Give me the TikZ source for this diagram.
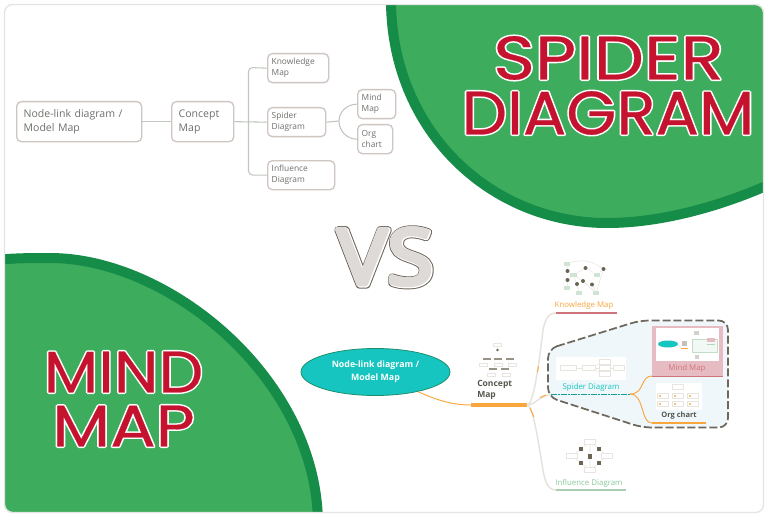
\documentclass[tikz,border=0pt]{standalone}
\usepackage{fontspec}
\setmainfont{Open Sans}
\newfontfamily\handcore[FakeBold=0.4]{Poppins}
\newfontfamily\handhalo[FakeBold=5.5]{Poppins}
\newfontfamily\vscore[FakeBold=5.5]{Open Sans}
\newfontfamily\vshalo[FakeBold=7]{Open Sans}
\newfontfamily\vsedge[FakeBold=9.5]{Open Sans}
\usetikzlibrary{shapes.geometric,calc}
\definecolor{cardedge}{HTML}{E4E4E4}
\definecolor{greenfill}{HTML}{3EAC5D}
\definecolor{greendark}{HTML}{168C49}
\definecolor{crimson}{HTML}{C4122F}
\definecolor{boxline}{HTML}{CFC6C2}
\definecolor{linkgray}{HTML}{BFC7C0}
\definecolor{txtgray}{HTML}{6F6F6C}
\definecolor{labeldark}{HTML}{57564E}
\definecolor{orange1}{HTML}{F9A63C}
\definecolor{teal1}{HTML}{16C5BF}
\definecolor{tealdark}{HTML}{1D8F6D}
\definecolor{roseline}{HTML}{CE747A}
\definecolor{rosefill}{HTML}{E6BCC2}
\definecolor{sagegreen}{HTML}{A9CDB0}
\definecolor{sage}{HTML}{8AC99A}
\definecolor{pale}{HTML}{EFF7FB}
\definecolor{curve}{HTML}{E6E3DC}
\definecolor{dotdark}{HTML}{6B6452}
\definecolor{vsgray}{HTML}{DDDAD8}
\definecolor{vsline}{HTML}{6D675C}
\definecolor{faint}{HTML}{E8E5DF}
\newcommand{\roundjoin}{\special{pdf:code 1 j 1 J}}
\newcommand{\halotext}[1]{\roundjoin\rlap{\color{white}\handhalo #1}{\color{crimson}\handcore #1}}
\tikzset{
  mapbox/.style={draw=boxline,line width=1pt,rounded corners=3.5pt,fill=white,align=left,anchor=north west,inner ysep=0pt,text=txtgray},
  tiny/.style={font=\fontsize{6.3pt}{8.4pt}\selectfont,inner xsep=3pt},
  mid/.style={font=\fontsize{7.9pt}{10.6pt}\selectfont,inner xsep=5pt},
  link/.style={draw=linkgray,line width=.8pt},
  branch/.style={draw=curve,line width=1.1pt},
  acc/.style={draw=orange1,line width=.7pt},
  lbl/.style={font=\fontsize{5.9pt}{7pt}\selectfont,anchor=center},
  dotn/.style={circle,fill=dotdark,inner sep=0pt,minimum size=3pt},
  pad/.style={fill=sagegreen!55,inner sep=0pt,minimum width=5pt,minimum height=3pt},
  sq/.style={fill=dotdark,inner sep=0pt,minimum size=3.2pt},
  mini/.style={draw=faint,line width=.4pt,fill=white,inner sep=0pt,minimum width=8pt,minimum height=3.5pt},
  thin/.style={draw=faint,line width=.4pt},
  hand/.style={inner sep=0pt},
}
\begin{document}
\begin{tikzpicture}[x=0.75pt,y=-0.75pt]
\useasboundingbox (0,0) rectangle (768,517);
\fill[white] (0,0) rectangle (768,517);
\begin{scope}
\path[clip,rounded corners=6pt] (5,5) rectangle (763,512);
\draw[fill=greenfill,draw=greendark,line width=7.5pt] (391,-5) -- (391,0) .. controls (391,130) and (490,223) .. (607,223) .. controls (660,223) and (720,207) .. (775,182) -- (790,-20) -- cycle;
\draw[fill=greenfill,draw=greendark,line width=7.5pt] (-15,261) .. controls (10,258) and (30,258) .. (50,258) .. controls (170,258) and (318,380) .. (318,525) -- (-20,530) -- cycle;
\end{scope}
\draw[cardedge,line width=1pt,rounded corners=6pt] (4.5,4.5) rectangle (763.5,512.5);
% titles
\node[hand,font=\fontsize{46pt}{46pt}\selectfont] (sb) at (608.5,58) {\scalebox{1.16}[1]{\halotext{SPIDER}}};
\node[hand,font=\fontsize{46pt}{46pt}\selectfont] (db) at (608,113) {\scalebox{1.05}[1]{\halotext{DIAGRAM}}};
\node[hand,font=\fontsize{44pt}{44pt}\selectfont] (mb) at (123.5,372) {\scalebox{1.08}[1]{\halotext{MIND}}};
\node[hand,font=\fontsize{44pt}{44pt}\selectfont] (pb) at (123.5,426) {\scalebox{1.15}[1]{\halotext{MAP}}};
% VS
\node[hand,font=\fontsize{58pt}{58pt}\selectfont] (vs) at (386,257) {\scalebox{1.08}[1]{\roundjoin\rlap{\color{vsline}\vsedge VS}\rlap{\color{white}\vshalo VS}\rlap{\kern-.6pt\raisebox{.5pt}{\color{vsgray}\vscore VS}}\phantom{\vsedge VS}}};
% top-left map
\node[mapbox,mid,minimum width=125pt*.75,minimum height=40pt*.75,text width=111pt*.75] (n1) at (16,101) {Node-link diagram /\\Model Map};
\node[mapbox,mid,minimum width=62pt*.75,minimum height=40pt*.75,text width=48pt*.75] (n2) at (171,101) {Concept\\Map};
\node[mapbox,tiny,minimum width=61pt*.75,minimum height=29pt*.75,text width=53pt*.75] (n3) at (267,53) {Knowledge\\Map};
\node[mapbox,tiny,minimum width=58pt*.75,minimum height=29pt*.75,text width=50pt*.75] (n4) at (267,107) {Spider\\Diagram};
\node[mapbox,tiny,minimum width=67pt*.75,minimum height=29pt*.75,text width=59pt*.75] (n5) at (267,160) {Influence\\Diagram};
\node[mapbox,tiny,minimum width=38pt*.75,minimum height=29pt*.75,text width=30pt*.75] (n6) at (357,89) {Mind\\Map};
\node[mapbox,tiny,minimum width=35pt*.75,minimum height=29pt*.75,text width=27pt*.75] (n7) at (357,124) {Org\\chart};
\coordinate (j1) at (248.5,121);
\draw[link] (n1.east) -- (n2.west);
\draw[link] (n2.east) -- (n4.west);
\draw[link,rounded corners=3pt] (n3.west) -- (248.5,67.5) -- (248.5,175) -- (n5.west);
\coordinate (j2) at (339,121);
\draw[link] (n4.east) -- (j2);
\draw[link] (n6.west) to[out=180,in=90] (j2) to[out=-90,in=180] (n7.west);
% bottom-right map
\coordinate (c1) at (471,405);
\coordinate (c2) at (527,405);
\node[ellipse,draw=tealdark,fill=teal1,line width=.6pt,inner sep=0pt,minimum width=149pt*.75,minimum height=47pt*.75,text=white,align=center,font=\bfseries\fontsize{6.6pt}{9.5pt}\selectfont] (root) at (375.5,372) {Node-link diagram /\\Model Map};
\draw[acc] (root.-25) .. controls (435,399) and (450,405) .. (c1);
\draw[orange1,line width=3pt] (c1) -- (c2);
% detail panel
\draw[fill=pale,draw=vsline,line width=1.3pt,dash pattern=on 6pt off 2.2pt,rounded corners=7pt] (548,349) -- (640,320.5) -- (728,320.5) -- (728,427.5) -- (642,427.5) -- (548,397) -- cycle;
\draw[branch] (c2) .. controls (533,405) and (538,372) .. (543,330) .. controls (545,320) and (548,313) .. (556,313);
\draw[branch] (c2) .. controls (533,405) and (538,440) .. (543,470) .. controls (545,482) and (548,490) .. (556,490);
\draw[branch] (c2) .. controls (535,405) and (540,395) .. (551,395);
\draw[acc] (538.5,366) -- (537.5,372);
\draw[acc] (540,397.5) -- (546,395);
\draw[acc] (530,408) -- (534,417);
% labels and underlines
\draw[roseline,line width=1.5pt] (556,313) -- (617,313);
\node[lbl,text=orange1] (kl) at (584,305) {Knowledge Map};
\draw[sagegreen,line width=1.5pt] (556,490) -- (626,490);
\node[lbl,text=sage] (il) at (589,483) {Influence Diagram};
\draw[teal1!80!black,line width=1.2pt,dash pattern=on 2pt off .5pt] (551,394.5) -- (630,394.5);
\node[lbl,text=teal1] (sl) at (591,387) {Spider Diagram};
\draw[acc] (630,394) .. controls (645,394) and (640,376) .. (652,376);
\draw[acc] (630,394) .. controls (645,394) and (640,423) .. (652,423);
\node[font=\bfseries\fontsize{6.4pt}{8pt}\selectfont,text=labeldark,align=left,inner sep=0pt,anchor=west] (cl) at (477,390) {Concept\\Map};
% Mind map card
\fill[rosefill] (652,326) rectangle (723,376);
\draw[roseline,line width=1.4pt] (652,376.5) -- (723,376.5);
\fill[white] (656,328) rectangle (719,361);
\node[lbl,text=roseline] (ml) at (687,368) {Mind Map};
\node[ellipse,fill=teal1,inner sep=0pt,minimum width=20pt*.75,minimum height=7pt*.75] (mroot) at (668,344) {};
\fill[orange1] (681,348) rectangle (688,349.2);
\fill[dotdark!40] (682,341) rectangle (687,346);
\draw[thin] (678,345) -- (681,348);
\draw[sagegreen!70,fill=sagegreen!15,line width=.5pt] (692,339) rectangle (717,352);
\fill[rosefill] (707,338) rectangle (715,341.5);
\fill[sage!70] (707,344) rectangle (715,345);
\fill[dotdark!30] (694,331) rectangle (699,335);
\fill[dotdark!30] (695,355) rectangle (699,359);
% Org chart
\fill[white] (656,383) rectangle (702,410);
\node[lbl,font=\bfseries\fontsize{5.6pt}{7pt}\selectfont,text=labeldark] (ol) at (679,416) {Org chart};
\draw[orange1,line width=1.5pt] (652,423) -- (706,423);
\node[mini] (o0) at (678,387) {};
\foreach \i/\x/\y in {1/663/396,2/678/396,3/693/396,4/663/404,5/678/404,6/693/404}{
  \node[mini] (o\i) at (\x,\y) {};
  \fill[orange1!70] (\x-4,\y-1) rectangle (\x-2.5,\y+1);
}
% Spider thumb
\fill[white] (556,357) rectangle (626,380);
\node[mini,minimum width=12pt] (s1) at (568,368) {};
\node[mini,minimum width=10pt] (s2) at (589,368) {};
\node[mini] (s3) at (605,362) {};
\node[mini] (s4) at (605,368) {};
\node[mini] (s5) at (605,374) {};
\node[mini] (s6) at (619,368) {};
\draw[thin] (s1) -- (s2) -- (s4) -- (s6);
\draw[thin] (s3) -- (s2) -- (s5);
% Knowledge thumb
\node[pad] (ka) at (567,263.5) {};
\node[pad] (kb) at (573.5,275) {};
\node[pad] (kc) at (597,274.5) {};
\node[pad] (kd) at (567,288) {};
\node[pad] (ke) at (579,293) {};
\node[pad] (kf) at (596,293) {};
\node[dotn] (k1) at (567.5,271) {};
\node[dotn] (k2) at (585.5,268) {};
\node[dotn] (k3) at (603.5,269) {};
\node[dotn] (k4) at (567.5,280) {};
\node[dotn] (k5) at (577,284) {};
\node[dotn] (k6) at (583,281) {};
\node[dotn] (k7) at (592,284.5) {};
\draw[thin] (ka) -- (k1) -- (kb) -- (k2) -- (kc) -- (k3) -- (kf) -- (k7);
\draw[thin] (kb) -- (k4) -- (kd);
\draw[thin] (kb) -- (k5) -- (ke);
\draw[thin] (kb) -- (k6) -- (kf);
\draw[thin] (ka) to[bend left=25] (k3);
% Influence thumb
\node[mini] (i1) at (590,442) {};
\node[mini] (i2) at (572,456) {};
\node[mini] (i3) at (607,455.5) {};
\node[mini] (i4) at (590,469.5) {};
\node[sq] (i5) at (581,449) {};
\node[sq] (i6) at (599,449) {};
\node[sq] (i7) at (581,463) {};
\node[sq] (i8) at (599,463) {};
\node[sq] (i9) at (590,456.5) {};
\draw[thin] (i1) -- (i5) -- (i2) -- (i7) -- (i4) -- (i8) -- (i3) -- (i6) -- (i1) -- (i9) -- (i4);
% Concept thumb
\node[mini,minimum width=6pt,minimum height=2.5pt] (t0) at (497.5,345) {};
\node[circle,fill=dotdark,inner sep=0pt,minimum size=2pt] (t1) at (497.5,350) {};
\foreach \x/\y in {486.5/359,497.5/359,510/359,493/369,505/369}{
  \fill[dotdark!70] (\x-4,\y-1) rectangle (\x+4,\y+1);
}
\foreach \i/\x/\y in {7/483/365,8/498/365,9/512/365,10/491/375,11/506/375}{
  \node[mini,minimum width=6pt,minimum height=2pt] (t\i) at (\x,\y) {};
}
\draw[thin] (t0) -- (t1);
\end{tikzpicture}
\end{document}
